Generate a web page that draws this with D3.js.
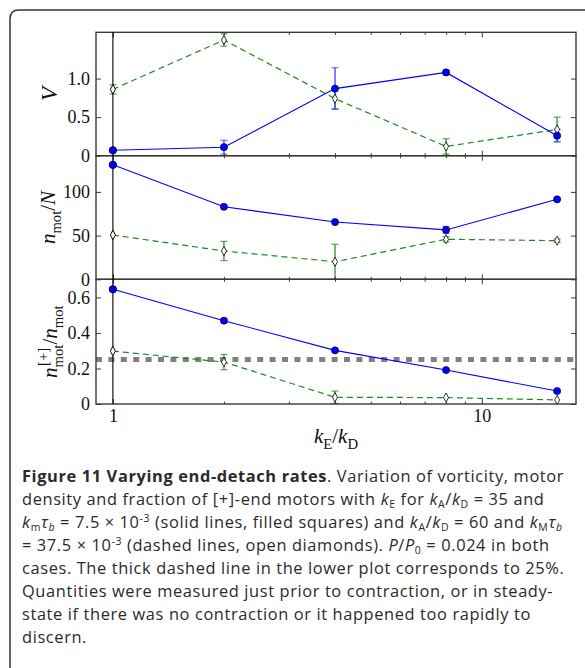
<!DOCTYPE html>
<html><head><meta charset="utf-8">
<script src="https://cdn.jsdelivr.net/npm/d3@7"></script>
<style>body{margin:0;background:#fff}svg{display:block}</style>
</head><body>
<svg id="c" width="585" height="668"></svg>
<script>
// ---------- data ----------
const kE = [1, 2, 4, 8, 16];
const vSolid      = [0.07, 0.11, 0.87, 1.08, 0.26];
const vSolidErr   = [0, 0.09, 0.27, 0.02, 0.08];
const vDashed     = [0.86, 1.50, 0.74, 0.12, 0.34];
const vDashedErr  = [0.06, 0.08, 0.13, 0.10, 0.16];
const nSolid      = [131, 83, 65.5, 56.5, 91.5];
const nSolidErr   = [0, 0, 0, 4, 0];
const nDashed     = [50.7, 32.4, 20.1, 45.8, 44.2];
const nDashedErr  = [0, 11, 20, 3, 2];
const fSolid      = [0.646, 0.469, 0.302, 0.191, 0.073];
const fSolidErr   = [0, 0, 0, 0, 0];
const fDashed     = [0.298, 0.236, 0.038, 0.036, 0.023];
const fDashedErr  = [0, 0.043, 0.035, 0, 0];
const refFraction = 0.25;
const vTicks = [0, 0.5, 1.0];
const vTickLabels = ["0", "0.5", "1.0"];
const nTicks = [0, 50, 100];
const nTickLabels = ["0", "50", "100"];
const fTicks = [0, 0.2, 0.4, 0.6];
const fTickLabels = ["0", "0.2", "0.4", "0.6"];
const xMajor = [1, 10];
const xMinor = [2, 3, 4, 5, 6, 7, 8, 9];
const xTickLabels = ["1", "10"];

// ---------- layout ----------
const svg = d3.select("#c");
const L = 96, R = 576;
const x = d3.scaleLog().domain([0.9, 18]).range([L, R]);
const MATH = "'Liberation Serif', 'DejaVu Serif', serif";
const AX = "#3a3a3a";

const panels = [
  {top: 32.3, bottom: 155.7, domain: [0, 1.6], ticks: vTicks, tickLabels: vTickLabels, solid: vSolid, solidErr: vSolidErr, dashed: vDashed, dashedErr: vDashedErr,
   label: [["V", "i"]], labelX: 57},
  {top: 155.7, bottom: 279.3, domain: [0, 141.4], ticks: nTicks, tickLabels: nTickLabels, solid: nSolid, solidErr: nSolidErr, dashed: nDashed, dashedErr: nDashedErr,
   label: [["n", "i"], ["mot", "sub"], ["/", ""], ["N", "i"]], labelX: 55},
  {top: 279.3, bottom: 404, domain: [0, 0.702], ticks: fTicks, tickLabels: fTickLabels, solid: fSolid, solidErr: fSolidErr, dashed: fDashed, dashedErr: fDashedErr,
   label: "stack", labelX: 57, ref: refFraction}
];

function rich(textSel, segs, fs, subShift = 0.28, supShift = 0.38, small = 0.7) {
  let shift = 0;
  segs.forEach(([t, s]) => {
    const ts = textSel.append("tspan").text(t);
    let target = 0, size = fs;
    if (s === "sub" || s === "isub") { target = subShift * fs; size = small * fs; }
    if (s === "sup") { target = -supShift * fs; size = small * fs; }
    ts.attr("dy", target - shift).attr("font-size", size);
    shift = target;
    if (s === "i" || s === "isub") ts.attr("font-style", "italic");
    if (s === "b") ts.attr("font-weight", "bold");
  });
  return textSel;
}

panels.forEach((p, i) => {
  const y = d3.scaleLinear().domain(p.domain).range([p.bottom, p.top]);
  const g = svg.append("g");

  if (p.ref !== undefined) {
    g.append("line").attr("x1", L).attr("x2", R).attr("y1", y(p.ref)).attr("y2", y(p.ref))
      .attr("stroke", "#808080").attr("stroke-width", 5).attr("stroke-dasharray", "6,6.4");
  }

  const line = d3.line().x((d, j) => x(kE[j])).y(d => y(d));
  g.append("path").datum(p.dashed).attr("d", line).attr("fill", "none")
    .attr("stroke", "#1a8c1a").attr("stroke-width", 1.2).attr("stroke-dasharray", "6,4");
  g.append("path").datum(p.solid).attr("d", line).attr("fill", "none")
    .attr("stroke", "#0000ff").attr("stroke-width", 1.1);

  function errs(vals, es, color, w) {
    vals.forEach((v, j) => {
      const e = es[j]; if (!e) return;
      const cx = x(kE[j]);
      const y1 = y(Math.max(v - e, p.domain[0])), y2 = y(v + e);
      g.append("line").attr("x1", cx).attr("x2", cx).attr("y1", y1).attr("y2", y2).attr("stroke", color).attr("stroke-width", w);
      [v - e, v + e].forEach(yy => {
        if (yy < p.domain[0]) return;
        g.append("line").attr("x1", cx - 3.5).attr("x2", cx + 3.5).attr("y1", y(yy)).attr("y2", y(yy)).attr("stroke", color).attr("stroke-width", 1.2);
      });
    });
  }
  errs(p.dashed, p.dashedErr, "rgba(30,140,30,0.75)", 1.6);
  errs(p.solid, p.solidErr, "rgba(70,70,255,0.75)", 1.8);

  g.selectAll(".dia").data(p.dashed).enter().append("path")
    .attr("d", (d, j) => { const cx = x(kE[j]), cy = y(d); return `M${cx},${cy-4.6}L${cx+2.5},${cy}L${cx},${cy+4.6}L${cx-2.5},${cy}Z`; })
    .attr("fill", "#fff").attr("stroke", "#000").attr("stroke-width", 0.8);
  g.selectAll(".dot").data(p.solid).enter().append("circle")
    .attr("cx", (d, j) => x(kE[j])).attr("cy", d => y(d)).attr("r", 3.6)
    .attr("fill", "#0000ff").attr("stroke", "#000").attr("stroke-width", 0.6);

  const left = d3.axisLeft(y).tickValues(p.ticks).tickSize(-5).tickPadding(6).tickFormat((d, k) => p.tickLabels[k]);
  const right = d3.axisRight(y).tickValues(p.ticks).tickSize(-5).tickFormat("");
  const gl = g.append("g").attr("transform", `translate(${L},0)`).call(left);
  gl.selectAll("text").attr("font-family", MATH).attr("font-size", 18).attr("fill", "#111");
  g.append("g").attr("transform", `translate(${R},0)`).call(right);

  [[p.bottom, d3.axisBottom], [p.top, d3.axisTop]].forEach(([yy, fn]) => {
    const isBottomLabel = (i === 2 && fn === d3.axisBottom);
    const ax = g.append("g").attr("transform", `translate(0,${yy})`)
      .call(fn(x).tickValues(xMajor).tickSize(-5).tickPadding(5)
        .tickFormat((d, k) => isBottomLabel ? xTickLabels[k] : ""));
    ax.selectAll("text").attr("font-family", MATH).attr("font-size", 18).attr("fill", "#111");
    g.append("g").attr("transform", `translate(0,${yy})`)
      .call(fn(x).tickValues(xMinor).tickSize(-2.5).tickFormat(""));
  });

  const lt = g.append("text").attr("transform", `translate(${p.labelX},${(p.top + p.bottom) / 2}) rotate(-90)`)
    .attr("text-anchor", "middle").attr("font-family", MATH).attr("fill", "#111").attr("font-size", 21);
  if (p.label === "stack") {
    const fs = 21;
    lt.append("tspan").text("n").attr("font-style", "italic").attr("font-size", fs);
    const sup = lt.append("tspan").text("[+]").attr("font-size", 0.7 * fs).attr("dy", -0.42 * fs).attr("dx", 1.5);
    const supW = sup.node().getComputedTextLength();
    lt.append("tspan").text("mot").attr("font-size", 0.7 * fs).attr("dy", 0.72 * fs).attr("dx", -supW - 1.5);
    lt.append("tspan").text("/").attr("font-size", fs).attr("dy", -0.30 * fs);
    lt.append("tspan").text("n").attr("font-style", "italic").attr("font-size", fs);
    lt.append("tspan").text("mot").attr("font-size", 0.7 * fs).attr("dy", 0.28 * fs);
  } else {
    rich(lt, p.label, p.label.length === 1 ? 23 : 21);
  }

  g.append("rect").attr("x", L).attr("y", p.top).attr("width", R - L).attr("height", p.bottom - p.top)
    .attr("fill", "none").attr("stroke", AX).attr("stroke-width", 1.4);
  g.selectAll(".domain").remove();
  g.selectAll(".tick line").attr("stroke", AX).attr("stroke-width", 1);
});

// black vertical bar at kE = 1 spanning all panels
svg.append("line").attr("x1", x(kE[0])).attr("x2", x(kE[0]))
  .attr("y1", panels[0].top).attr("y2", panels[2].bottom).attr("stroke", "#000").attr("stroke-width", 1.1);
panels.forEach(p => {
  const y = d3.scaleLinear().domain(p.domain).range([p.bottom, p.top]);
  const cx = x(kE[0]);
  svg.append("path").attr("d", `M${cx},${y(p.dashed[0])-4.6}L${cx+2.5},${y(p.dashed[0])}L${cx},${y(p.dashed[0])+4.6}L${cx-2.5},${y(p.dashed[0])}Z`)
    .attr("fill", "#fff").attr("stroke", "#000").attr("stroke-width", 0.8);
  svg.append("circle").attr("cx", cx).attr("cy", y(p.solid[0])).attr("r", 3.6)
    .attr("fill", "#0000ff").attr("stroke", "#000").attr("stroke-width", 0.6);
});

// x label
rich(svg.append("text").attr("x", 336).attr("y", 443).attr("text-anchor", "middle")
  .attr("font-family", MATH).attr("fill", "#111"),
  [["k", "i"], ["E", "sub"], ["/", ""], ["k", "i"], ["D", "sub"]], 21);

// outer frame
svg.append("path").attr("d", "M10,668 L10,19 Q10,10 19,10 L585,10")
  .attr("fill", "none").attr("stroke", "#333").attr("stroke-width", 1.5);

// caption
const capLines = [
  [["Figure 11 Varying end-detach rates", "b"], [". Variation of vorticity, motor", ""]],
  [["density and fraction of [+]-end motors with ", ""], ["k", "i"], ["E", "sub"], [" for ", ""], ["k", "i"], ["A", "sub"], ["/", ""], ["k", "i"], ["D", "sub"], [" = 35 and", ""]],
  [["k", "i"], ["m", "sub"], ["τ", "i"], ["b", "isub"], [" = 7.5 × 10", ""], ["-3", "sup"], [" (solid lines, filled squares) and ", ""], ["k", "i"], ["A", "sub"], ["/", ""], ["k", "i"], ["D", "sub"], [" = 60 and ", ""], ["k", "i"], ["M", "sub"], ["τ", "i"], ["b", "isub"]],
  [["= 37.5 × 10", ""], ["-3", "sup"], [" (dashed lines, open diamonds). ", ""], ["P", "i"], ["/", ""], ["P", "i"], ["0", "sub"], [" = 0.024 in both", ""]],
  [["cases. The thick dashed line in the lower plot corresponds to 25%.", ""]],
  [["Quantities were measured just prior to contraction, or in steady-", ""]],
  [["state if there was no contraction or it happened too rapidly to", ""]],
  [["discern.", ""]]
];
capLines.forEach((segs, i) => {
  const t = svg.append("text").attr("x", 22).attr("y", 482 + i * 23)
    .attr("font-family", "'Open Sans', sans-serif").attr("fill", "#2a2a2a")
    .attr("letter-spacing", 0.62);
  rich(t, segs, 16.4, 0.16, 0.34, 0.64);
});
</script>
</body></html>
